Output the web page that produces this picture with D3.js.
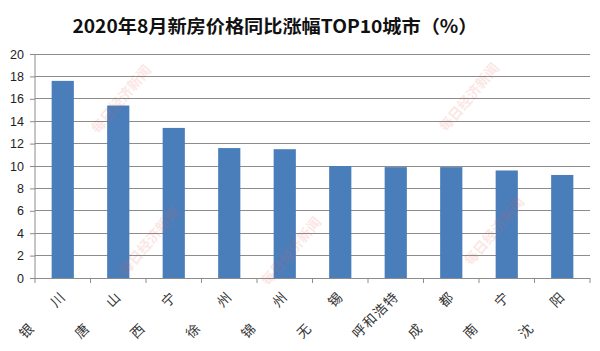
<!DOCTYPE html>
<html>
<head>
<meta charset="utf-8">
<script src="https://cdn.jsdelivr.net/npm/d3@7"></script>
<style>
  html, body { margin: 0; padding: 0; background: #fff; }
  svg { display: block; font-family: "Noto Sans CJK SC", "DejaVu Sans", sans-serif; }
</style>
</head>
<body>
<div id="chart"></div>
<script>
const cities = ['银川', '唐山', '西宁', '徐州', '锦州', '无锡', '呼和浩特', '成都', '南宁', '沈阳'];
const values = [17.6, 15.4, 13.4, 11.6, 11.5, 10.0, 9.9, 9.9, 9.6, 9.2];
const yTicks = [0, 2, 4, 6, 8, 10, 12, 14, 16, 18, 20];
const title = '2020年8月新房价格同比涨幅TOP10城市（%）';
const watermarks = [[122, 100], [470, 98], [150, 242], [292, 252], [495, 232]];

const W = 600, H = 351, m = { t: 54, r: 10, b: 73, l: 35 };
const svg = d3.select('#chart').append('svg').attr('width', W).attr('height', H);

const x = d3.scaleBand().domain(cities).range([m.l, W - m.r]).paddingInner(0.6).paddingOuter(0.3);
const y = d3.scaleLinear().domain([0, 20]).range([H - m.b, m.t]);

// gridlines
svg.append('g').selectAll('line').data(yTicks.filter(d => d > 0)).join('line')
  .attr('x1', m.l).attr('x2', W - m.r)
  .attr('y1', d => y(d)).attr('y2', d => y(d))
  .attr('stroke', '#8c8c8c').attr('stroke-width', 1).attr('shape-rendering', 'crispEdges');

// bars
svg.append('g').selectAll('rect').data(values).join('rect')
  .attr('x', (d, i) => x(cities[i])).attr('width', x.bandwidth())
  .attr('y', d => y(d)).attr('height', d => y(0) - y(d))
  .attr('fill', '#4a7ebb');

// watermarks
svg.append('g').selectAll('text').data(watermarks).join('text')
  .attr('transform', d => `translate(${d[0]},${d[1]}) rotate(-50)`)
  .attr('text-anchor', 'middle').attr('dominant-baseline', 'middle')
  .attr('font-size', 14).attr('font-weight', 'bold')
  .attr('fill', '#e85a4f').attr('opacity', 0.14)
  .text('每日经济新闻');

// y axis
const ya = svg.append('g').attr('transform', `translate(${m.l},0)`)
  .call(d3.axisLeft(y).tickValues(yTicks).tickSize(5).tickPadding(6));
ya.select('.domain').attr('stroke', '#8c8c8c').attr('d', `M0,${y(0)}V${y(20)}`);
ya.selectAll('.tick line').attr('stroke', '#8c8c8c');
ya.selectAll('.tick text').attr('font-size', 12.5).attr('fill', '#222')
  .attr('font-family', '"Liberation Sans", Arial, sans-serif');

// x axis, ticks at band boundaries
const xa = svg.append('g').attr('transform', `translate(0,${y(0)})`);
xa.append('line').attr('x1', m.l).attr('x2', W - m.r).attr('stroke', '#8c8c8c')
  .attr('shape-rendering', 'crispEdges');
const step = x.step();
xa.selectAll('line.tk').data(d3.range(cities.length + 1)).join('line').attr('class', 'tk')
  .attr('x1', i => m.l + i * step).attr('x2', i => m.l + i * step)
  .attr('y1', 0).attr('y2', 5).attr('stroke', '#8c8c8c');

// labels: 4 slots on a 45° diagonal, two-char names take first and last slot
const slot = 10.4;
const glyphs = cities.flatMap(c => {
  const ch = [...c];
  const slots = ch.length === 2 ? [0, 3] : ch.map((_, k) => k);
  const cx = x(c) + x.bandwidth() / 2;
  return ch.map((g, k) => ({ g, x: cx - 6 - (3 - slots[k]) * slot, y: 21 + (3 - slots[k]) * slot }));
});
xa.selectAll('text').data(glyphs).join('text')
  .attr('transform', d => `translate(${d.x},${d.y}) rotate(-45)`)
  .attr('text-anchor', 'middle').attr('dominant-baseline', 'central')
  .attr('font-size', 13.5).attr('fill', '#333')
  .text(d => d.g);

// title
svg.append('text').attr('x', 275).attr('y', 33).attr('text-anchor', 'middle')
  .attr('font-size', 18).attr('font-weight', 'bold').attr('fill', '#111')
  .attr('textLength', 405).attr('lengthAdjust', 'spacingAndGlyphs')
  .text(title);
</script>
</body>
</html>
